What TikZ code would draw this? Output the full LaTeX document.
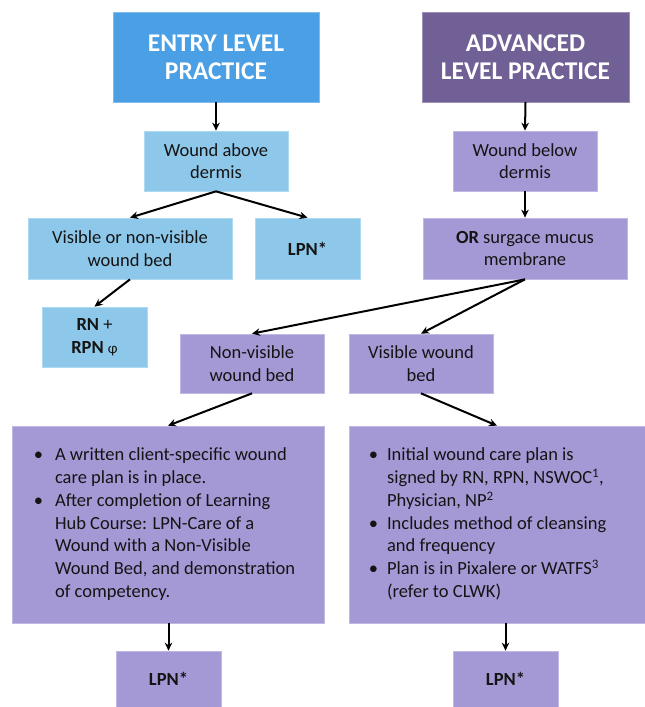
\documentclass[tikz,border=0pt]{standalone}
\usepackage{fontspec}
\setmainfont{Carlito}
\usetikzlibrary{arrows.meta}
\definecolor{entryblue}{RGB}{74,159,229}
\definecolor{advpurple}{RGB}{113,96,150}
\definecolor{lightblue}{RGB}{141,200,234}
\definecolor{lavender}{RGB}{165,153,213}
\definecolor{bodytext}{RGB}{20,20,20}
\begin{document}
\begin{tikzpicture}[x=1pt,y=-1pt,
  head/.style={rectangle, inner sep=2pt, align=center, text=white,
    font=\fontsize{25.5}{28}\selectfont\bfseries},
  box/.style={rectangle, inner sep=2pt, align=center, text=bodytext,
    font=\fontsize{18.5}{22.7}\selectfont, line width=0.7pt},
  blubox/.style={box, fill=lightblue, draw=lightblue!70!white},
  lavbox/.style={box, fill=lavender, draw=lavender!70!white},
  listtext/.style={inner sep=0pt, anchor=west, text=bodytext,
    font=\fontsize{18.5}{22.7}\selectfont},
  arr/.style={-{Stealth[length=8pt,width=7.5pt]}, line width=2pt, black}
]
\useasboundingbox (0,0) rectangle (645,707);

% headers
\node[head, fill=entryblue, draw=entryblue!70!white, minimum width=206pt, minimum height=90pt] (entry) at (216,57) {ENTRY LEVEL\\PRACTICE};
\node[head, fill=advpurple, draw=advpurple!70!white, minimum width=207pt, minimum height=90pt] (adv) at (525.5,57) {ADVANCED\\LEVEL PRACTICE};

% second row
\node[blubox, minimum width=144pt, minimum height=60pt] (above) at (216,161) {Wound above\\dermis};
\node[lavbox, minimum width=144pt, minimum height=60pt] (below) at (525,161) {Wound below\\dermis};

% third row
\node[blubox, minimum width=204pt, minimum height=61pt] (vis) at (130,248.5) {Visible or non-visible\\wound bed};
\node[blubox, minimum width=105pt, minimum height=61pt] (lpnA) at (307.5,248.5) {\textbf{LPN*}};
\node[lavbox, minimum width=204pt, minimum height=61pt] (orsurf) at (525,248.5) {\textbf{OR} surgace mucus\\membrane};

% fourth row
\node[blubox, minimum width=105pt, minimum height=60pt] (rn) at (94.5,337) {\textbf{RN} +\\\textbf{RPN} {\fontsize{15}{15}\selectfont φ}};
\node[lavbox, minimum width=144pt, minimum height=59pt] (nonvis) at (252,363.5) {Non-visible\\wound bed};
\node[lavbox, minimum width=144pt, minimum height=59pt] (viswb) at (421,363.5) {Visible wound\\bed};

% big boxes
\node[lavbox, minimum width=312pt, minimum height=197pt] (bigL) at (168,524.5) {};
\node[lavbox, minimum width=296pt, minimum height=197pt] (bigR) at (497,524.5) {};

\node[listtext] (txtL) at ([xshift=22pt]bigL.west) {%
\begin{tabular}{@{}l@{\hspace{12pt}}l@{}}
\textbullet & A written client-specific wound\\
 & care plan is in place.\\
\textbullet & After completion of Learning\\
 & Hub Course: LPN-Care of a\\
 & Wound with a Non-Visible\\
 & Wound Bed, and demonstration\\
 & of competency.
\end{tabular}};

\node[listtext] (txtR) at ([xshift=20pt]bigR.west) {%
\begin{tabular}{@{}l@{\hspace{9pt}}l@{}}
\textbullet & Initial wound care plan is\\
 & signed by RN, RPN, NSWOC\textsuperscript{1},\\
 & Physician, NP\textsuperscript{2}\\
\textbullet & Includes method of cleansing\\
 & and frequency\\
\textbullet & Plan is in Pixalere or WATFS\textsuperscript{3}\\
 & (refer to CLWK)
\end{tabular}};

% bottom boxes
\node[lavbox, minimum width=105pt, minimum height=56pt] (lpnL) at (168.5,679) {\textbf{LPN*}};
\node[lavbox, minimum width=105pt, minimum height=56pt] (lpnR) at (505.5,679) {\textbf{LPN*}};

% connectors
\draw[arr] (entry.south) -- (above.north);
\draw[arr] (adv.south) -- (below.north);
\draw[arr] (above.south) -- (vis.north);
\draw[arr] (above.south) -- (lpnA.north);
\draw[arr] (below.south) -- (orsurf.north);
\draw[arr] (vis.south) -- (rn.north);
\draw[arr] (orsurf.south) -- (nonvis.north);
\draw[arr] (orsurf.south) -- (viswb.north);
\draw[arr] (nonvis.south) -- (bigL.north);
\draw[arr] (viswb.south) -- (bigR.north);
\draw[arr] (lpnL.north |- bigL.south) -- (lpnL.north);
\draw[arr] (lpnR.north |- bigR.south) -- (lpnR.north);
\end{tikzpicture}
\end{document}
